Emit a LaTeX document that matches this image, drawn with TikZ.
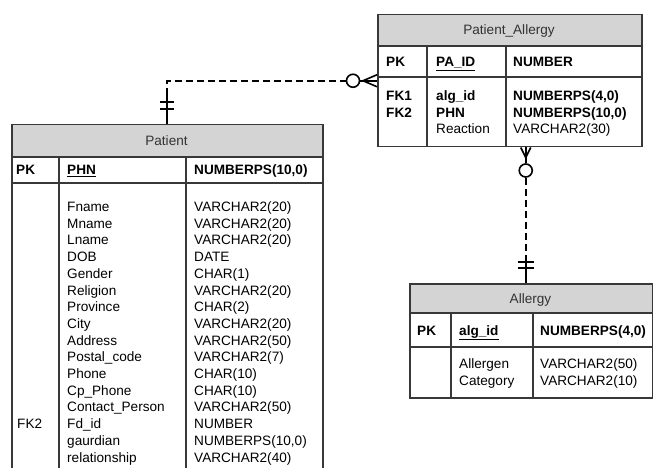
\documentclass[tikz,border=0pt]{standalone}
\usepackage{fontspec}
\setmainfont{Liberation Sans}
\usetikzlibrary{calc}
\usetikzlibrary{positioning}
\definecolor{hgray}{rgb}{0.83, 0.83, 0.83}
\definecolor{bline}{rgb}{0.22, 0.22, 0.22}
\tikzset{tbl/.style = {draw = bline, line width = 1.5pt, rectangle, inner sep = 0, anchor = north west}}
\tikzset{txt/.style = {inner sep = 0, anchor = base west, align = left, font = \fontsize{13.6pt}{16.7pt}\selectfont}}
\tikzset{ttl/.style = {txt, anchor = base, text = black!80}}
\tikzset{sep/.style = {draw = bline, line width = 1.5pt}}
\tikzset{rel/.style = {line width = 2pt, dash pattern = on 7pt off 4pt}}
\tikzset{relsolid/.style = {line width = 1.6pt}}
\tikzset{ring/.style = {draw, circle, line width = 1.6pt, inner sep = 0, minimum size = 13pt}}

\begin{document}
\begin{tikzpicture}[x = 1pt, y = -1pt]
    \useasboundingbox (0, 0) rectangle (653, 468);

    % Patient
    \fill [hgray] (11, 124) rectangle (322, 157);
    \node [tbl, minimum width = 311, minimum height = 360] (p) at (11, 124) {};
    \draw [sep] (11, 157) -- (322, 157);
    \draw [sep] (11, 183) -- (322, 183);
    \draw [sep] (59, 157) -- (59, 484);
    \draw [sep] (186, 157) -- (186, 484);
    \node [ttl] (p-name) at (166.5, 145.5) {Patient};
    \node [txt] (p-pk) at (16, 175) {\textbf{PK}};
    \node [txt] (p-key) at (67, 175) {\textbf{\underline{PHN}}};
    \node [txt] (p-keytype) at (194, 175) {\textbf{NUMBERPS(10,0)}};
    \node [txt] (p-fk) at (17, 428.5) {FK2};
    \node [txt] (p-cols) at (67, 462) {Fname\\Mname\\Lname\\DOB\\Gender\\Religion\\Province\\City\\Address\\Postal\_code\\Phone\\Cp\_Phone\\Contact\_Person\\Fd\_id\\gaurdian\\relationship};
    \node [txt] (p-types) at (194, 462) {VARCHAR2(20)\\VARCHAR2(20)\\VARCHAR2(20)\\DATE\\CHAR(1)\\VARCHAR2(20)\\CHAR(2)\\VARCHAR2(20)\\VARCHAR2(50)\\VARCHAR2(7)\\CHAR(10)\\CHAR(10)\\VARCHAR2(50)\\NUMBER\\NUMBERPS(10,0)\\VARCHAR2(40)};

    % Patient_Allergy
    \fill [hgray] (377, 14) rectangle (641, 46);
    \node [tbl, minimum width = 264, minimum height = 132] (pa) at (377, 14) {};
    \draw [sep] (377, 46) -- (641, 46);
    \draw [sep] (377, 77) -- (641, 77);
    \draw [sep] (427, 46) -- (427, 146);
    \draw [sep] (506, 46) -- (506, 146);
    \node [ttl] (pa-name) at (509, 35) {Patient\_Allergy};
    \node [txt] (pa-pk) at (386, 67) {\textbf{PK}};
    \node [txt] (pa-key) at (436, 67) {\textbf{\underline{PA\_ID}}};
    \node [txt] (pa-keytype) at (513, 67) {\textbf{NUMBER}};
    \node [txt] (pa-fk) at (386, 117.3) {\textbf{FK1}\\\textbf{FK2}};
    \node [txt] (pa-cols) at (436, 134) {\textbf{alg\_id}\\\textbf{PHN}\\Reaction};
    \node [txt] (pa-types) at (513, 134) {\textbf{NUMBERPS(4,0)}\\\textbf{NUMBERPS(10,0)}\\VARCHAR2(30)};

    % Allergy
    \fill [hgray] (409, 283) rectangle (652, 313);
    \node [tbl, minimum width = 243, minimum height = 114] (a) at (409, 283) {};
    \draw [sep] (409, 313) -- (652, 313);
    \draw [sep] (409, 347) -- (652, 347);
    \draw [sep] (451, 313) -- (451, 397);
    \draw [sep] (533, 313) -- (533, 397);
    \node [ttl] (a-name) at (530.5, 303) {Allergy};
    \node [txt] (a-pk) at (417, 335) {\textbf{PK}};
    \node [txt] (a-key) at (459, 335) {\textbf{\underline{alg\_id}}};
    \node [txt] (a-keytype) at (540, 335) {\textbf{NUMBERPS(4,0)}};
    \node [txt] (a-cols) at (459, 385) {Allergen\\Category};
    \node [txt] (a-types) at (540, 385) {VARCHAR2(50)\\VARCHAR2(10)};

    % Patient -- Patient_Allergy
    \node [ring] (pa-o) at ($(pa.west) + (-24, 0)$) {};
    \coordinate (p-bend) at ($(p.north) + (0, -29)$);
    \draw [relsolid] (p.north) -- (p-bend);
    \draw [relsolid] ($(p.north) + (-7, -15)$) -- ++(14, 0);
    \draw [relsolid] ($(p.north) + (-7, -22)$) -- ++(14, 0);
    \draw [rel] (p-bend) |- (pa-o.west);
    \draw [relsolid] (pa-o.east) -- (pa.west);
    \draw [relsolid] ($(pa.west) + (0, -6)$) -- ($(pa.west) + (-14, 0)$) -- ($(pa.west) + (0, 6)$);

    % Patient_Allergy -- Allergy
    \coordinate (pa-foot) at ($(pa.south) + (16, 0)$);
    \coordinate (a-foot) at (pa-foot |- a.north);
    \node [ring] (a-o) at ($(pa-foot) + (0, 23)$) {};
    \draw [relsolid] ($(pa-foot) + (-5, 0)$) -- ($(pa-foot) + (0, 10)$) -- ($(pa-foot) + (5, 0)$);
    \draw [relsolid] (pa-foot) -- (a-o.north);
    \coordinate (a-bend) at ($(a-foot) + (0, -27)$);
    \draw [rel] (a-o.south) -- (a-bend);
    \draw [relsolid] (a-bend) -- (a-foot);
    \draw [relsolid] ($(a-foot) + (-8, -21)$) -- ++(16, 0);
    \draw [relsolid] ($(a-foot) + (-8, -15)$) -- ++(16, 0);
\end{tikzpicture}
\end{document}
